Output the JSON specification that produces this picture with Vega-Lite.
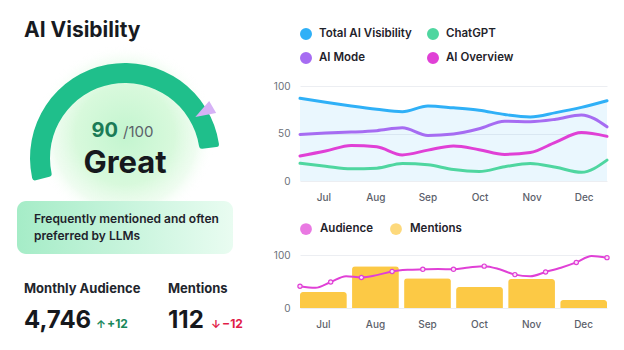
{
  "$schema": "https://vega.github.io/schema/vega-lite/v6.json",
  "background": "white",
  "padding": {"left": 17, "top": 20, "right": 0, "bottom": 0},
  "bounds": "flush",
  "spacing": 283,
  "resolve": {"scale": {"color": "independent"}},
  "hconcat": [
    {
      "bounds": "flush",
      "spacing": 11,
      "vconcat": [
        {
          "width": 216,
          "height": 104,
          "title": {"text": "AI Visibility", "anchor": "start", "frame": "group", "dx": 7, "offset": 4, "fontSize": 21, "fontWeight": 700, "color": "#171a21"},
          "data": {"values": [{"metric": "AI Visibility", "score": 90, "max": 100, "rating": "Great"}]},
          "layer": [
            {
              "mark": {"type": "point", "shape": "circle", "filled": true, "size": 32400, "yOffset": -3, "opacity": 1, "strokeWidth": 0,
                "fill": {"gradient": "radial", "stops": [
                  {"offset": 0, "color": "#c3f5cf"},
                  {"offset": 0.55, "color": "#d8f9dc"},
                  {"offset": 0.8, "color": "rgba(232,251,234,0.7)"},
                  {"offset": 1, "color": "rgba(255,255,255,0)"}
                ]}},
              "encoding": {}
            },
            {
              "mark": {"type": "arc", "radius": 95, "radius2": 75, "yOffset": 20, "cornerRadius": 3, "color": "#1fbf8b"},
              "encoding": {
                "theta": {"field": "score", "type": "quantitative", "stack": true, "scale": {"domain": [0, 100], "range": [-1.815, 1.815]}}
              }
            },
            {
              "mark": {"type": "point", "shape": "M0,-1L0.7,1L-0.7,1Z", "filled": true, "size": 400, "color": "#d6b2f6", "opacity": 1, "strokeWidth": 0, "xOffset": 79, "yOffset": -26},
              "encoding": {"angle": {"value": 240}}
            },
            {
              "mark": {"type": "text", "align": "right", "baseline": "alphabetic", "dx": -7, "dy": -1, "fontSize": 20, "fontWeight": 700, "color": "#1b7b57"},
              "encoding": {"text": {"field": "score", "type": "quantitative"}}
            },
            {
              "mark": {"type": "text", "align": "left", "baseline": "alphabetic", "dx": -2, "dy": -1, "fontSize": 15, "color": "#5b6069"},
              "encoding": {"text": {"value": "/100"}}
            },
            {
              "mark": {"type": "text", "align": "center", "baseline": "alphabetic", "dy": 35, "fontSize": 31, "fontWeight": 700, "color": "#16181d"},
              "encoding": {"text": {"field": "rating", "type": "nominal"}}
            }
          ]
        },
        {
          "width": 216,
          "height": 53,
          "view": {
            "fill": {"gradient": "linear", "x1": 0, "y1": 0, "x2": 1, "y2": 0, "stops": [
              {"offset": 0, "color": "#a5ecc7"},
              {"offset": 1, "color": "#e9fcf1"}
            ]},
            "cornerRadius": 9,
            "stroke": null
          },
          "data": {"values": [{"summary": "Frequently mentioned and often\npreferred by LLMs"}]},
          "mark": {"type": "text", "align": "left", "baseline": "alphabetic", "lineBreak": "\n", "lineHeight": 16.5, "dx": -91, "dy": -4.5, "fontSize": 12, "fontWeight": 600, "color": "#1e222b"},
          "encoding": {"text": {"field": "summary", "type": "nominal"}}
        },
        {
          "width": 144,
          "height": 65,
          "data": {"values": [
            {"metric": "Monthly Audience", "value": 4746, "change": 12},
            {"metric": "Mentions", "value": 112, "change": -12}
          ]},
          "encoding": {
            "x": {"field": "metric", "type": "nominal", "sort": null, "scale": {"type": "point", "padding": 0}, "axis": null}
          },
          "layer": [
            {
              "mark": {"type": "text", "align": "left", "baseline": "alphabetic", "dx": 7, "dy": -4.5, "fontSize": 13, "fontWeight": 700, "color": "#22252c"},
              "encoding": {"text": {"field": "metric", "type": "nominal"}}
            },
            {
              "mark": {"type": "text", "align": "left", "baseline": "alphabetic", "dx": 7, "dy": 30, "fontSize": 24, "fontWeight": 700, "color": "#16181d"},
              "encoding": {"text": {"field": "value", "type": "quantitative", "format": ","}}
            },
            {
              "transform": [{"filter": "datum.metric === 'Monthly Audience'"}],
              "layer": [
                {
                  "mark": {"type": "text", "align": "left", "baseline": "alphabetic", "dx": 79, "dy": 30, "fontSize": 11, "fontWeight": 700},
                  "encoding": {
                    "text": {"condition": {"test": "datum.change > 0", "value": "↑"}, "value": "↓"},
                    "color": {"condition": {"test": "datum.change > 0", "value": "#18875a"}, "value": "#e11d48"}
                  }
                },
                {
                  "mark": {"type": "text", "align": "left", "baseline": "alphabetic", "dx": 90, "dy": 30, "fontSize": 12, "fontWeight": 700},
                  "encoding": {
                    "text": {"field": "change", "type": "quantitative", "format": "+d"},
                    "color": {"condition": {"test": "datum.change > 0", "value": "#18875a"}, "value": "#e11d48"}
                  }
                }
              ]
            },
            {
              "transform": [{"filter": "datum.metric === 'Mentions'"}],
              "layer": [
                {
                  "mark": {"type": "text", "align": "left", "baseline": "alphabetic", "dx": 50, "dy": 30, "fontSize": 11, "fontWeight": 700},
                  "encoding": {
                    "text": {"condition": {"test": "datum.change > 0", "value": "↑"}, "value": "↓"},
                    "color": {"condition": {"test": "datum.change > 0", "value": "#18875a"}, "value": "#e11d48"}
                  }
                },
                {
                  "mark": {"type": "text", "align": "left", "baseline": "alphabetic", "dx": 61, "dy": 30, "fontSize": 12, "fontWeight": 700},
                  "encoding": {
                    "text": {"field": "change", "type": "quantitative", "format": "+d"},
                    "color": {"condition": {"test": "datum.change > 0", "value": "#18875a"}, "value": "#e11d48"}
                  }
                }
              ]
            }
          ]
        }
      ]
    },
    {
      "bounds": "flush",
      "spacing": 74,
      "resolve": {"scale": {"color": "independent"}},
      "vconcat": [
        {
          "width": 307,
          "height": 95,
          "data": {"values": [
            {"period": 0, "series": "Total AI Visibility", "value": 87},
            {"period": 0.5, "series": "Total AI Visibility", "value": 83},
            {"period": 1, "series": "Total AI Visibility", "value": 79},
            {"period": 1.5, "series": "Total AI Visibility", "value": 75.5},
            {"period": 2, "series": "Total AI Visibility", "value": 73},
            {"period": 2.5, "series": "Total AI Visibility", "value": 79},
            {"period": 3, "series": "Total AI Visibility", "value": 77},
            {"period": 3.5, "series": "Total AI Visibility", "value": 74.5},
            {"period": 4, "series": "Total AI Visibility", "value": 70},
            {"period": 4.5, "series": "Total AI Visibility", "value": 67.5},
            {"period": 5, "series": "Total AI Visibility", "value": 72},
            {"period": 5.5, "series": "Total AI Visibility", "value": 77.5},
            {"period": 6, "series": "Total AI Visibility", "value": 84.5},
            {"period": 0, "series": "ChatGPT", "value": 18.6},
            {"period": 0.5, "series": "ChatGPT", "value": 15.5},
            {"period": 1, "series": "ChatGPT", "value": 12.8},
            {"period": 1.5, "series": "ChatGPT", "value": 13.5},
            {"period": 2, "series": "ChatGPT", "value": 18.5},
            {"period": 2.5, "series": "ChatGPT", "value": 17},
            {"period": 3, "series": "ChatGPT", "value": 12},
            {"period": 3.5, "series": "ChatGPT", "value": 10},
            {"period": 4, "series": "ChatGPT", "value": 15},
            {"period": 4.5, "series": "ChatGPT", "value": 18.5},
            {"period": 5, "series": "ChatGPT", "value": 14.5},
            {"period": 5.5, "series": "ChatGPT", "value": 9.2},
            {"period": 6, "series": "ChatGPT", "value": 22},
            {"period": 0, "series": "AI Mode", "value": 49},
            {"period": 0.5, "series": "AI Mode", "value": 50.5},
            {"period": 1, "series": "AI Mode", "value": 51.5},
            {"period": 1.5, "series": "AI Mode", "value": 53},
            {"period": 2, "series": "AI Mode", "value": 56},
            {"period": 2.5, "series": "AI Mode", "value": 48},
            {"period": 3, "series": "AI Mode", "value": 49.5},
            {"period": 3.5, "series": "AI Mode", "value": 55},
            {"period": 4, "series": "AI Mode", "value": 63},
            {"period": 4.5, "series": "AI Mode", "value": 62.5},
            {"period": 5, "series": "AI Mode", "value": 65},
            {"period": 5.5, "series": "AI Mode", "value": 69.5},
            {"period": 6, "series": "AI Mode", "value": 57},
            {"period": 0, "series": "AI Overview", "value": 26.3},
            {"period": 0.5, "series": "AI Overview", "value": 31.5},
            {"period": 1, "series": "AI Overview", "value": 37.5},
            {"period": 1.5, "series": "AI Overview", "value": 36},
            {"period": 2, "series": "AI Overview", "value": 27.5},
            {"period": 2.5, "series": "AI Overview", "value": 32.5},
            {"period": 3, "series": "AI Overview", "value": 36.8},
            {"period": 3.5, "series": "AI Overview", "value": 33},
            {"period": 4, "series": "AI Overview", "value": 28},
            {"period": 4.5, "series": "AI Overview", "value": 30},
            {"period": 5, "series": "AI Overview", "value": 41},
            {"period": 5.5, "series": "AI Overview", "value": 51},
            {"period": 6, "series": "AI Overview", "value": 47}
          ]},
          "encoding": {
            "x": {"field": "period", "type": "quantitative", "scale": {"domain": [0, 6], "nice": false, "zero": false},
              "axis": {"values": [0.457, 1.474, 2.49, 3.51, 4.526, 5.543], "labelExpr": "['Jul','Aug','Sep','Oct','Nov','Dec'][floor(datum.value)]", "grid": false, "domain": false, "ticks": false, "labelPadding": 11, "labelFontSize": 10, "labelFontWeight": 500, "labelColor": "#5c616b", "title": null}},
            "y": {"field": "value", "type": "quantitative", "title": null, "scale": {"domain": [0, 100]},
              "axis": {"values": [0, 50, 100], "domain": false, "ticks": false, "labelPadding": 10, "labelFontSize": 10, "labelColor": "#6b7079", "gridColor": "#eceef2", "title": null}}
          },
          "layer": [
            {
              "transform": [{"filter": "datum.series === 'Total AI Visibility'"}],
              "mark": {"type": "area", "interpolate": "monotone", "color": "#2fb0f7", "opacity": 0.1}
            },
            {
              "mark": {"type": "line", "interpolate": "monotone", "strokeWidth": 3, "strokeCap": "round"},
              "encoding": {
                "color": {"field": "series", "type": "nominal", "scale": {"domain": ["Total AI Visibility", "ChatGPT", "AI Mode", "AI Overview"], "range": ["#2fb0f7", "#4fd6a0", "#a66cf2", "#e040d6"]},
                  "legend": {"orient": "top", "direction": "horizontal", "columns": 2, "gridAlign": "none", "title": null, "symbolType": "circle", "symbolSize": 36, "symbolStrokeWidth": 6, "symbolOpacity": 1, "labelFontSize": 11.5, "labelFontWeight": 600, "labelColor": "#1f232b", "labelOffset": 7, "columnPadding": 6, "rowPadding": -6, "offset": 13, "padding": 0}}
              }
            }
          ]
        },
        {
          "width": 307,
          "height": 53,
          "resolve": {"scale": {"x": "independent"}},
          "layer": [
            {
              "data": {"values": [
                {"month": "Jul", "mentions": 30},
                {"month": "Aug", "mentions": 79},
                {"month": "Sep", "mentions": 56},
                {"month": "Oct", "mentions": 39.5},
                {"month": "Nov", "mentions": 54.5},
                {"month": "Dec", "mentions": 15}
              ]},
              "mark": {"type": "bar", "cornerRadiusTopLeft": 3, "cornerRadiusTopRight": 3},
              "encoding": {
                "x": {"field": "month", "type": "ordinal", "sort": null, "scale": {"paddingInner": 0.1, "paddingOuter": 0},
                  "axis": {"grid": false, "domain": false, "ticks": false, "labelPadding": 11, "labelFontSize": 10, "labelFontWeight": 500, "labelColor": "#5c616b", "labelAngle": 0, "title": null}},
                "y": {"field": "mentions", "type": "quantitative", "title": null, "scale": {"domain": [0, 100]},
                  "axis": {"values": [0, 50, 100], "domain": false, "ticks": false, "labelPadding": 10, "labelFontSize": 10, "labelColor": "#6b7079", "gridColor": "#eceef2", "title": null}},
                "color": {"datum": "Mentions", "type": "nominal", "scale": {"domain": ["Audience", "Mentions"], "range": ["#e040d6", "#fcc945"]},
                  "legend": {"orient": "top", "direction": "horizontal", "title": null, "symbolType": "circle", "symbolSize": 140, "symbolStrokeWidth": 0, "labelFontSize": 11.5, "labelFontWeight": 600, "labelColor": "#1f232b", "labelOffset": 8, "columnPadding": 17, "offset": 20, "padding": 0}}
              }
            },
            {
              "data": {"values": [
                {"period": 0, "audience": 41},
                {"period": 0.3, "audience": 38},
                {"period": 0.6, "audience": 49},
                {"period": 0.9, "audience": 60},
                {"period": 1.2, "audience": 57.6},
                {"period": 1.5, "audience": 62},
                {"period": 1.8, "audience": 69},
                {"period": 2.1, "audience": 72},
                {"period": 2.4, "audience": 73},
                {"period": 2.7, "audience": 73.5},
                {"period": 3.0, "audience": 73},
                {"period": 3.3, "audience": 76.5},
                {"period": 3.6, "audience": 79},
                {"period": 3.9, "audience": 73},
                {"period": 4.2, "audience": 63},
                {"period": 4.5, "audience": 60},
                {"period": 4.8, "audience": 68},
                {"period": 5.1, "audience": 76},
                {"period": 5.4, "audience": 86},
                {"period": 5.7, "audience": 98},
                {"period": 6.0, "audience": 95}
              ]},
              "mark": {"type": "line", "interpolate": "monotone", "strokeWidth": 2, "color": "#e040d6"},
              "encoding": {
                "x": {"field": "period", "type": "quantitative", "scale": {"domain": [0, 6], "nice": false, "zero": false}, "axis": null},
                "y": {"field": "audience", "type": "quantitative", "title": null}
              }
            },
            {
              "data": {"values": [
                {"period": 0, "audience": 41},
                {"period": 0.6, "audience": 49},
                {"period": 1.2, "audience": 57.6},
                {"period": 1.8, "audience": 69},
                {"period": 2.4, "audience": 73},
                {"period": 3.0, "audience": 73},
                {"period": 3.6, "audience": 79},
                {"period": 4.2, "audience": 63},
                {"period": 4.8, "audience": 68},
                {"period": 5.4, "audience": 86},
                {"period": 6.0, "audience": 95}
              ]},
              "layer": [
                {
                  "mark": {"type": "point", "filled": true, "size": 18, "fill": "#fbe3fa", "stroke": "#e040d6", "strokeWidth": 1.2, "opacity": 1},
                  "encoding": {
                    "x": {"field": "period", "type": "quantitative", "scale": {"domain": [0, 6], "nice": false, "zero": false}, "axis": null},
                    "y": {"field": "audience", "type": "quantitative", "title": null}
                  }
                },
                {
                  "transform": [{"filter": "false"}],
                  "mark": {"type": "point", "filled": true},
                  "encoding": {
                    "x": {"field": "period", "type": "quantitative", "scale": {"domain": [0, 6], "nice": false, "zero": false}, "axis": null},
                    "y": {"field": "audience", "type": "quantitative", "title": null},
                    "color": {"datum": "Audience", "type": "nominal"}
                  }
                }
              ]
            }
          ]
        }
      ]
    }
  ],
  "config": {
    "font": "Inter",
    "view": {"stroke": null},
    "axis": {"labelFont": "Inter"},
    "legend": {"labelFont": "Inter"},
    "title": {"font": "Inter"},
    "text": {"font": "Inter"}
  }
}
